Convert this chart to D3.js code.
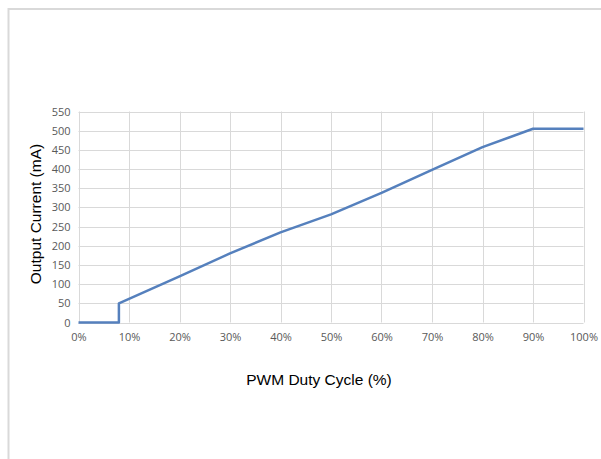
<!DOCTYPE html>
<html>
<head>
<meta charset="utf-8">
<script src="https://cdn.jsdelivr.net/npm/d3@7"></script>
<style>
  body { margin: 0; background: #fff; }
  svg { display: block; }
</style>
</head>
<body>
<div id="chart"></div>
<script>
// duty cycle (%) and output current (mA)
let duty = [0, 8, 8, 20, 30, 40, 50, 60, 70, 80, 90, 100];
let current = [0, 0, 50, 120, 180, 235, 282, 338, 398, 457, 505, 505];

let xTicks = [0, 10, 20, 30, 40, 50, 60, 70, 80, 90, 100];
let yTicks = [0, 50, 100, 150, 200, 250, 300, 350, 400, 450, 500, 550];

let svgWidth = 601;
let svgHeight = 459;
let plotLeft = 78.5, plotRight = 583.5, plotTop = 111.5, plotBottom = 322.5;

let svg = d3.select("#chart")
  .append("svg")
  .attr("width", svgWidth)
  .attr("height", svgHeight)

// outer chart border (runs off the bottom/right of the picture)
svg.append("rect")
  .attr("x", 8.5).attr("y", 9)
  .attr("width", 700).attr("height", 600)
  .attr("fill", "none")
  .attr("stroke", "#d9d9d9")
  .attr("stroke-width", 2)

let xScale = d3.scaleLinear().domain([0, 100]).range([plotLeft, plotRight])
let yScale = d3.scaleLinear().domain([0, 550]).range([plotBottom, plotTop])

// gridlines
svg.append("g")
  .selectAll("line")
  .data(yTicks)
  .enter()
  .append("line")
  .attr("x1", plotLeft).attr("x2", plotRight)
  .attr("y1", d => Math.round(yScale(d)) + 0.5)
  .attr("y2", d => Math.round(yScale(d)) + 0.5)
  .attr("stroke", "#d9d9d9")

svg.append("g")
  .selectAll("line")
  .data(xTicks)
  .enter()
  .append("line")
  .attr("y1", plotTop).attr("y2", plotBottom)
  .attr("x1", d => Math.round(xScale(d)) + 0.5)
  .attr("x2", d => Math.round(xScale(d)) + 0.5)
  .attr("stroke", "#d9d9d9")

let xAxis = d3.axisBottom(xScale)
  .tickValues(xTicks)
  .tickSize(0)
  .tickPadding(11)
  .tickFormat(d => d + "%")

svg.append("g")
  .attr("transform", `translate(0,${plotBottom})`)
  .call(xAxis)
  .call(g => g.select(".domain").remove())
  .selectAll("text")
  .attr("fill", "#595959")
  .style("font-family", "'Open Sans', 'Liberation Sans', sans-serif")
  .style("font-size", "11px")

let yAxis = d3.axisLeft(yScale)
  .tickValues(yTicks)
  .tickSize(0)
  .tickPadding(8)

svg.append("g")
  .attr("transform", `translate(${plotLeft},0)`)
  .call(yAxis)
  .call(g => g.select(".domain").remove())
  .selectAll("text")
  .attr("fill", "#595959")
  .style("font-family", "'Open Sans', 'Liberation Sans', sans-serif")
  .style("font-size", "11px")

// the curve
let line = d3.line()
  .x((d, i) => xScale(duty[i]))
  .y(d => yScale(d))

svg.append("path")
  .datum(current)
  .attr("d", line)
  .attr("fill", "none")
  .attr("stroke", "#5580bd")
  .attr("stroke-width", 2.5)
  .attr("stroke-linejoin", "round")

// axis titles
svg.append("text")
  .attr("x", (plotLeft + plotRight) / 2 - 12)
  .attr("y", 385)
  .attr("text-anchor", "middle")
  .style("font-family", "'Liberation Sans', Arial, sans-serif")
  .style("font-size", "15.5px")
  .text("PWM Duty Cycle (%)")

svg.append("text")
  .attr("transform", `translate(41,${(plotTop + plotBottom) / 2 - 3}) rotate(-90)`)
  .attr("text-anchor", "middle")
  .style("font-family", "'Liberation Sans', Arial, sans-serif")
  .style("font-size", "15.5px")
  .text("Output Current (mA)")
</script>
</body>
</html>
